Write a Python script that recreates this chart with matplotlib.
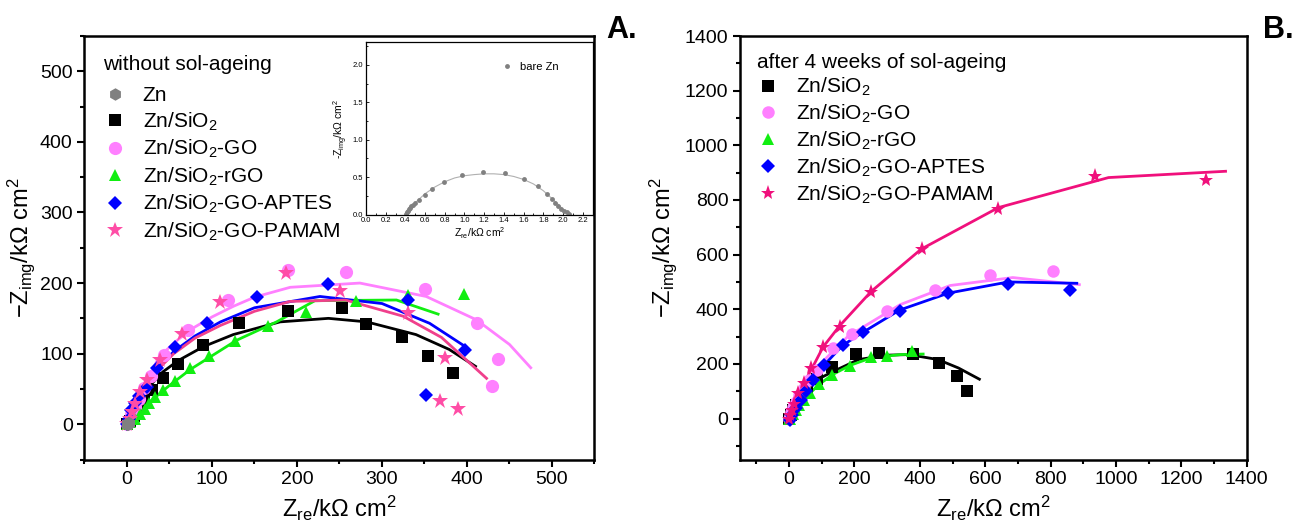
import matplotlib.pyplot as plt
from matplotlib.ticker import MultipleLocator

plt.rcParams['font.family'] = ['Liberation Sans', 'DejaVu Sans']
plt.rcParams['mathtext.fontset'] = 'custom'
plt.rcParams['mathtext.rm'] = 'Liberation Sans'
plt.rcParams['mathtext.it'] = 'Liberation Sans:italic'
plt.rcParams['mathtext.default'] = 'regular'

# ---------------- Panel A: without sol-ageing ----------------
zn_x = [0, 0.5, 1, 1.5, 2]
zn_y = [0, 0.5, 1, 1.5, 2]

sio2_x = [0, 3, 8, 14, 20, 29, 42, 60, 90, 132, 190, 253, 281, 323, 354, 383]
sio2_y = [0, 5, 12, 22, 33, 48, 65, 86, 112, 143, 161, 165, 142, 124, 97, 73]
sio2_fit_x = [0, 5, 12, 22, 42, 60, 90, 125, 180, 237, 282, 340, 379, 410]
sio2_fit_y = [0, 12, 28, 48, 74, 90, 110, 127, 145, 150, 145, 127, 106, 82]

go_x = [0, 2, 5, 9, 14, 20, 28, 44, 72, 119, 190, 258, 351, 412, 436, 429]
go_y = [0, 6, 14, 24, 36, 52, 68, 98, 133, 176, 219, 215, 191, 143, 92, 54]
go_fit_x = [0, 10, 20, 37, 55, 76, 100, 125, 150, 192, 274, 352, 411, 450, 475]
go_fit_y = [0, 30, 52, 94, 115, 135, 152, 167, 180, 194, 200, 181, 148, 113, 80]

rgo_x = [0, 4, 9, 15, 21, 26, 33, 42, 56, 74, 96, 127, 166, 211, 269, 331, 396]
rgo_y = [0, 3, 8, 15, 22, 30, 38, 48, 61, 79, 96, 118, 139, 159, 174, 183, 184]
rgo_fit_x = [0, 10, 20, 33, 50, 75, 100, 129, 176, 221, 317, 366]
rgo_fit_y = [0, 12, 25, 38, 55, 78, 97, 119, 145, 175, 176, 156]

aptes_x = [0, 2, 5, 9, 14, 23, 35, 57, 94, 153, 236, 331, 398, 352]
aptes_y = [0, 8, 20, 30, 40, 53, 79, 109, 144, 180, 198, 176, 105, 41]
aptes_fit_x = [0, 5, 12, 20, 35, 55, 80, 110, 150, 227, 300, 356, 398]
aptes_fit_y = [0, 22, 40, 55, 78, 103, 125, 145, 165, 181, 171, 143, 110]

pamam_x = [0, 3, 6, 9, 15, 23, 39, 65, 110, 187, 251, 331, 374, 368, 389]
pamam_y = [0, 8, 18, 29, 45, 62, 91, 128, 173, 214, 189, 158, 94, 33, 21]
pamam_fit_x = [0, 5, 12, 20, 35, 55, 80, 110, 150, 192, 257, 325, 370, 423]
pamam_fit_y = [0, 22, 40, 55, 76, 100, 122, 140, 160, 174, 176, 153, 123, 65]

# inset: bare Zn
bare_x = [0.41, 0.42, 0.43, 0.44, 0.45, 0.46, 0.48, 0.50, 0.54, 0.60, 0.67, 0.79,
          0.97, 1.19, 1.41, 1.60, 1.75, 1.84, 1.89, 1.92, 1.95, 1.98, 2.01, 2.04, 2.06]
bare_y = [0.01, 0.03, 0.05, 0.07, 0.09, 0.11, 0.13, 0.16, 0.20, 0.26, 0.34, 0.44,
          0.53, 0.57, 0.55, 0.48, 0.38, 0.28, 0.21, 0.15, 0.11, 0.08, 0.05, 0.03, 0.01]
bare_fit_x = [0.40, 0.45, 0.50, 0.60, 0.70, 0.80, 0.90, 1.00, 1.10, 1.20, 1.30, 1.40,
              1.50, 1.60, 1.70, 1.80, 1.90, 1.95, 2.00, 2.05, 2.08]
bare_fit_y = [0.0, 0.09, 0.16, 0.28, 0.37, 0.44, 0.49, 0.52, 0.535, 0.545, 0.545, 0.535,
              0.51, 0.47, 0.41, 0.32, 0.20, 0.14, 0.07, 0.02, 0.0]

# ---------------- Panel B: after 4 weeks of sol-ageing ----------------
b_sio2_x = [0, 5, 12, 22, 35, 55, 85, 131, 204, 274, 378, 459, 513, 544]
b_sio2_y = [0, 12, 30, 50, 75, 105, 146, 189, 237, 241, 237, 204, 157, 99]
b_sio2_fit_x = [0, 15, 35, 60, 90, 136, 213, 300, 366, 455, 518, 582]
b_sio2_fit_y = [0, 35, 75, 115, 145, 173, 216, 232, 234, 216, 185, 144]

b_go_x = [0, 3, 7, 12, 20, 30, 45, 62, 85, 134, 191, 298, 445, 614, 808]
b_go_y = [0, 10, 25, 42, 62, 85, 110, 140, 179, 257, 308, 395, 472, 527, 539]
b_go_fit_x = [0, 10, 25, 45, 70, 100, 181, 340, 493, 684, 888]
b_go_fit_y = [0, 35, 75, 115, 160, 205, 302, 417, 487, 516, 490]

b_rgo_x = [0, 4, 13, 22, 31, 45, 64, 92, 132, 185, 251, 298, 375]
b_rgo_y = [0, 0, 15, 31, 49, 68, 93, 126, 160, 194, 226, 228, 247]
b_rgo_fit_x = [0, 10, 22, 40, 64, 92, 132, 185, 251, 340, 410]
b_rgo_fit_y = [0, 10, 30, 60, 93, 125, 160, 194, 222, 234, 236]

b_aptes_x = [3, 9, 22, 37, 53, 73, 108, 164, 225, 338, 487, 671, 859]
b_aptes_y = [-6, 12, 37, 68, 99, 142, 197, 268, 315, 395, 459, 493, 472]
b_aptes_fit_x = [0, 10, 22, 37, 53, 73, 108, 164, 225, 338, 487, 671, 880]
b_aptes_fit_y = [0, 25, 40, 68, 99, 140, 197, 268, 315, 397, 459, 500, 495]

b_pamam_x = [0, 3, 9, 15, 28, 45, 66, 104, 155, 251, 406, 639, 935, 1274]
b_pamam_y = [0, 12, 31, 55, 93, 130, 185, 263, 336, 463, 619, 768, 888, 873]
b_pamam_fit_x = [0, 10, 25, 50, 75, 104, 155, 251, 404, 640, 977, 1335]
b_pamam_fit_y = [0, 30, 75, 140, 195, 262, 340, 465, 620, 772, 882, 905]

C_SIO2 = 'black'
C_GO = '#FF80FF'
C_RGO = '#11EE11'
C_APTES = '#0000FF'
C_PAMAM_A = '#FF4DA6'
C_PAMAM_A_LINE = '#F0408C'
C_PAMAM_B = '#F0107C'
C_ZN = '#808080'

fig = plt.figure(figsize=(13.02, 5.30), dpi=100)
axA = fig.add_axes([0.0649, 0.133, 0.3917, 0.799])
axB = fig.add_axes([0.5684, 0.133, 0.3892, 0.799])


def style_axis(ax):
    for s in ax.spines.values():
        s.set_linewidth(1.8)
    ax.tick_params(which='major', direction='out', length=5, width=1.5, labelsize=14,
                   top=False, right=False)
    ax.tick_params(which='minor', direction='out', length=3, width=1.5,
                   top=False, right=False)


# ---- Panel A ----
axA.plot(sio2_fit_x, sio2_fit_y, color=C_SIO2, lw=2)
axA.plot(go_fit_x, go_fit_y, color=C_GO, lw=2)
axA.plot(rgo_fit_x, rgo_fit_y, color=C_RGO, lw=2)
axA.plot(aptes_fit_x, aptes_fit_y, color=C_APTES, lw=2)
axA.plot(pamam_fit_x, pamam_fit_y, color=C_PAMAM_A_LINE, lw=2)

axA.plot(zn_x, zn_y, 'h', color=C_ZN, ms=9, mew=0, label='Zn', zorder=5)
axA.plot(sio2_x, sio2_y, 's', color=C_SIO2, ms=8, mew=0, label='Zn/SiO$_2$')
axA.plot(go_x, go_y, 'o', color=C_GO, ms=9.5, mew=0, label='Zn/SiO$_2$-GO')
axA.plot(rgo_x, rgo_y, '^', color=C_RGO, ms=9, mew=0, label='Zn/SiO$_2$-rGO')
axA.plot(aptes_x, aptes_y, 'D', color=C_APTES, ms=7.5, mew=0, label='Zn/SiO$_2$-GO-APTES')
axA.plot(pamam_x, pamam_y, '*', color=C_PAMAM_A, ms=12, mew=0, label='Zn/SiO$_2$-GO-PAMAM')
axA.plot(zn_x, zn_y, 'h', color=C_ZN, ms=9, mew=0, zorder=6)

axA.set_xlim(-50, 550)
axA.set_ylim(-50, 550)
axA.xaxis.set_major_locator(MultipleLocator(100))
axA.xaxis.set_minor_locator(MultipleLocator(50))
axA.yaxis.set_major_locator(MultipleLocator(100))
axA.yaxis.set_minor_locator(MultipleLocator(50))
style_axis(axA)
axA.set_xlabel('Z$_{re}$/kΩ cm$^2$', fontsize=17)
axA.set_ylabel('−Z$_{img}$/kΩ cm$^2$', fontsize=17, labelpad=2)
legA = axA.legend(loc='upper left', title='without sol-ageing', frameon=False, fontsize=15,
                  title_fontsize=15, handletextpad=0.8, labelspacing=0.25,
                  borderaxespad=0.5, handlelength=1.1)
legA._legend_box.align = 'left'
legA._legend_box.sep = 9
fig.text(0.466, 0.943, 'A.', fontsize=22, fontweight='bold', ha='left', va='center')

# inset
axI = fig.add_axes([0.2811, 0.595, 0.174, 0.325])
axI.plot(bare_fit_x, bare_fit_y, color='#B0B0B0', lw=0.8)
axI.plot(bare_x, bare_y, 'o', color=C_ZN, ms=3.5, mew=0, label='bare Zn')
axI.set_xlim(0, 2.3)
axI.set_ylim(0, 2.3)
axI.xaxis.set_major_locator(MultipleLocator(0.2))
axI.xaxis.set_minor_locator(MultipleLocator(0.1))
axI.yaxis.set_major_locator(MultipleLocator(0.5))
axI.yaxis.set_minor_locator(MultipleLocator(0.25))
axI.tick_params(which='major', direction='in', length=2.5, width=0.6, labelsize=5.5, pad=2)
axI.tick_params(which='minor', direction='in', length=1.5, width=0.6)
axI.xaxis.set_major_formatter(plt.FuncFormatter(lambda v, p: f'{v:.1f}'))
axI.yaxis.set_major_formatter(plt.FuncFormatter(lambda v, p: f'{v:.1f}'))
for s in axI.spines.values():
    s.set_linewidth(0.9)
axI.set_xlabel('Z$_{re}$/kΩ cm$^2$', fontsize=7.5, labelpad=1)
axI.set_ylabel('-Z$_{img}$/kΩ cm$^2$', fontsize=7.5, labelpad=2)
axI.legend(loc='center left', bbox_to_anchor=(0.6, 0.858), frameon=False, fontsize=8,
           handletextpad=0.6, handlelength=1.0, borderpad=0, borderaxespad=0)

# ---- Panel B ----
axB.plot(b_sio2_fit_x, b_sio2_fit_y, color=C_SIO2, lw=2)
axB.plot(b_go_fit_x, b_go_fit_y, color=C_GO, lw=2)
axB.plot(b_rgo_fit_x, b_rgo_fit_y, color=C_RGO, lw=2)
axB.plot(b_aptes_fit_x, b_aptes_fit_y, color=C_APTES, lw=2)
axB.plot(b_pamam_fit_x, b_pamam_fit_y, color=C_PAMAM_B, lw=2)

axB.plot(b_sio2_x, b_sio2_y, 's', color=C_SIO2, ms=8, mew=0, label='Zn/SiO$_2$')
axB.plot(b_go_x, b_go_y, 'o', color=C_GO, ms=9, mew=0, label='Zn/SiO$_2$-GO')
axB.plot(b_rgo_x, b_rgo_y, '^', color=C_RGO, ms=9, mew=0, label='Zn/SiO$_2$-rGO')
axB.plot(b_aptes_x, b_aptes_y, 'D', color=C_APTES, ms=7.5, mew=0, label='Zn/SiO$_2$-GO-APTES')
axB.plot(b_pamam_x, b_pamam_y, '*', color=C_PAMAM_B, ms=11, mew=0, label='Zn/SiO$_2$-GO-PAMAM')

axB.set_xlim(-150, 1400)
axB.set_ylim(-150, 1400)
axB.xaxis.set_major_locator(MultipleLocator(200))
axB.xaxis.set_minor_locator(MultipleLocator(100))
axB.yaxis.set_major_locator(MultipleLocator(200))
axB.yaxis.set_minor_locator(MultipleLocator(100))
style_axis(axB)
axB.set_xlabel('Z$_{re}$/kΩ cm$^2$', fontsize=17)
axB.set_ylabel('−Z$_{img}$/kΩ cm$^2$', fontsize=17)
legB = axB.legend(loc='upper left', title='after 4 weeks of sol-ageing', frameon=False,
                  fontsize=15, title_fontsize=15, handletextpad=0.8, labelspacing=0.22,
                  borderaxespad=0.4, handlelength=1.1)
legB._legend_box.align = 'left'
legB._legend_box.sep = 3
fig.text(0.970, 0.943, 'B.', fontsize=22, fontweight='bold', ha='left', va='center')

fig.savefig('out.png', dpi=100)
